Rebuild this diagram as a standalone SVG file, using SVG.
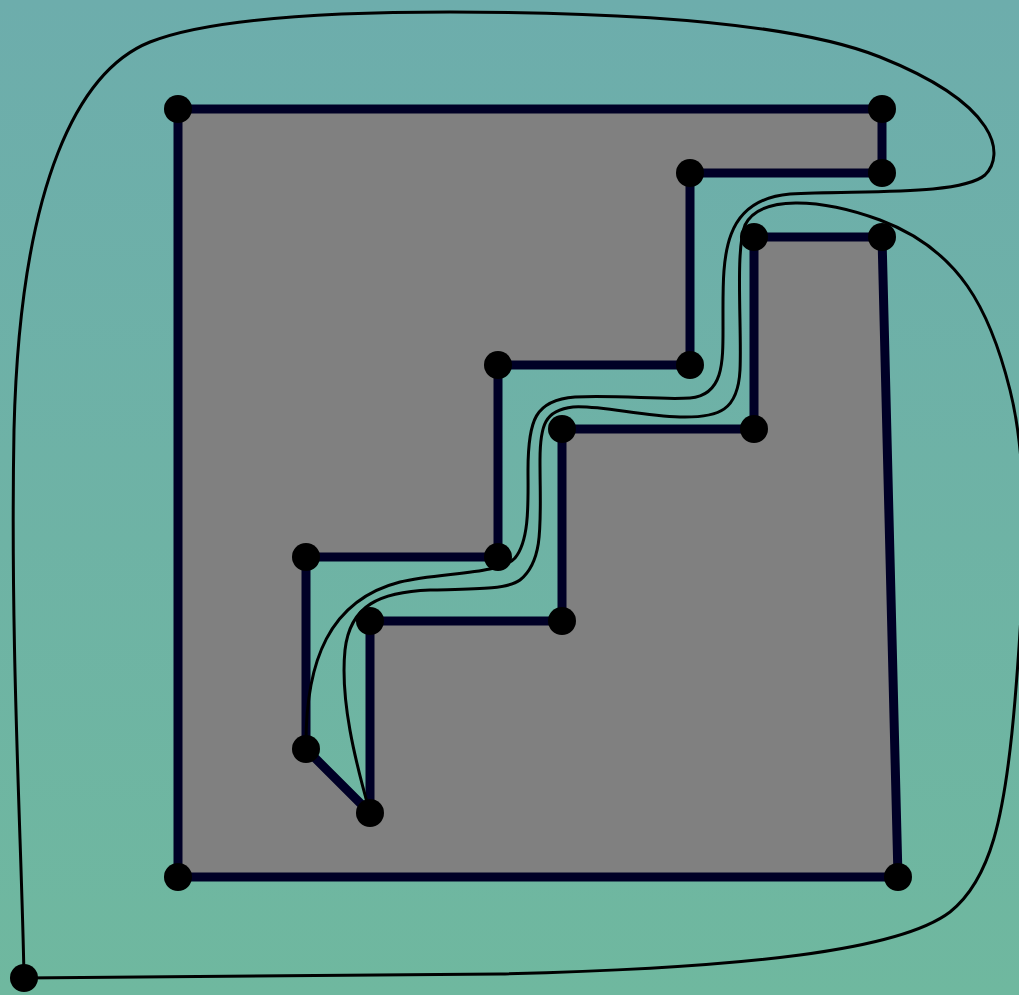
<svg xmlns="http://www.w3.org/2000/svg" width="1019" height="995" viewBox="0 0 1019 995">
<defs>
<linearGradient id="bg" x1="0" y1="0" x2="0" y2="1">
<stop offset="0" stop-color="#6dadac"/>
<stop offset="1" stop-color="#6fb89f"/>
</linearGradient>
<style>
.edge{fill:#808080;stroke:#000026;stroke-width:9;stroke-linejoin:miter}
.curve{fill:none;stroke:#000;stroke-width:3}
.dot{fill:#000}
</style>
</defs>
<rect x="0" y="0" width="1019" height="995" fill="url(#bg)"/>
<g id="polygon">
<polygon class="edge" points="178,109 882,109 882,173 690,173 690,365 498,365 498,557 306,557 306,749 370,813 370,621 562,621 562,429 754,429 754,237 882,237 898,877 178,877"/>
</g>
<g id="connectors">
<path class="curve" d="M306,749 C305,660 330,600 400,582 C440,572 500,575 515,558 C530,540 528,500 528,470 C528,420 535,400 575,397 C620,395 660,400 690,398 C725,395 723,360 723,320 C723,260 720,200 790,194 C860,190 960,196 985,175 C1005,155 1000,105 880,57 C800,25 650,12 450,12 C300,12 200,22 150,42 C80,70 20,180 14,430 C10,650 22,850 24,978 L500,974 C750,968 900,950 950,912 C990,880 1005,820 1015,700 C1025,580 1030,470 1010,390 C990,310 960,250 880,220 C820,198 760,195 745,225 C735,250 742,330 740,370 C738,410 720,418 680,417 C640,416 600,405 573,407 C545,410 540,425 540,460 C540,520 545,560 520,580 C507,590 470,589 430,590 C380,592 350,605 345,650 C340,700 355,760 370,813"/>
</g>
<g id="n1"><circle class="dot" cx="178" cy="109" r="14"/></g>
<g id="n2"><circle class="dot" cx="882" cy="109" r="14"/></g>
<g id="n3"><circle class="dot" cx="882" cy="173" r="14"/></g>
<g id="n4"><circle class="dot" cx="690" cy="173" r="14"/></g>
<g id="n5"><circle class="dot" cx="690" cy="365" r="14"/></g>
<g id="n6"><circle class="dot" cx="498" cy="365" r="14"/></g>
<g id="n7"><circle class="dot" cx="498" cy="557" r="14"/></g>
<g id="n8"><circle class="dot" cx="306" cy="557" r="14"/></g>
<g id="n9"><circle class="dot" cx="306" cy="749" r="14"/></g>
<g id="n10"><circle class="dot" cx="370" cy="813" r="14"/></g>
<g id="n11"><circle class="dot" cx="370" cy="621" r="14"/></g>
<g id="n12"><circle class="dot" cx="562" cy="621" r="14"/></g>
<g id="n13"><circle class="dot" cx="562" cy="429" r="14"/></g>
<g id="n14"><circle class="dot" cx="754" cy="429" r="14"/></g>
<g id="n15"><circle class="dot" cx="754" cy="237" r="14"/></g>
<g id="n16"><circle class="dot" cx="882" cy="237" r="14"/></g>
<g id="n17"><circle class="dot" cx="898" cy="877" r="14"/></g>
<g id="n18"><circle class="dot" cx="178" cy="877" r="14"/></g>
<g id="n19"><circle class="dot" cx="24" cy="978" r="14"/></g>
</svg>
